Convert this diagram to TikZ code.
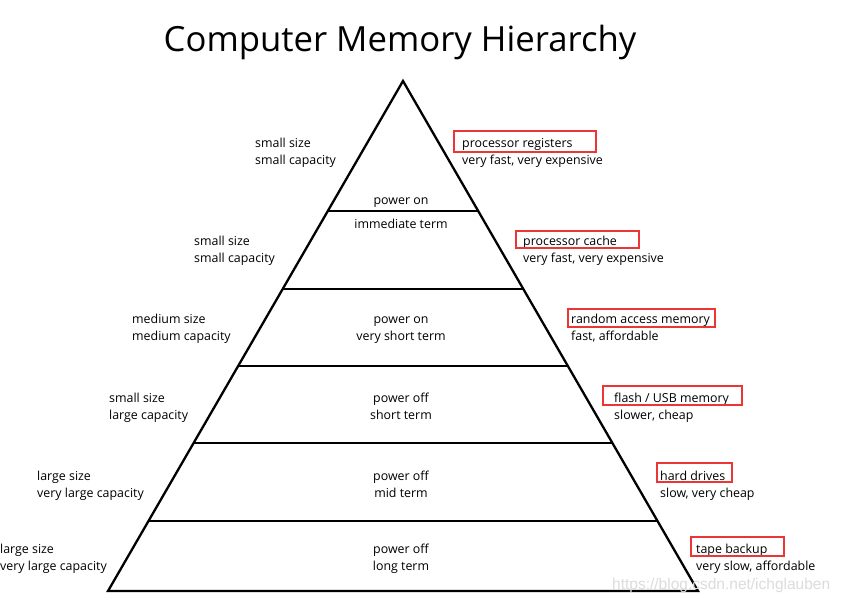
\documentclass[tikz,border=0pt]{standalone}
\usepackage{fontspec}
\setmainfont{Open Sans}
\usetikzlibrary{calc}
\definecolor{boxred}{HTML}{EE3535}
\definecolor{wm}{HTML}{DCDCDC}
\begin{document}
\begin{tikzpicture}[x=1pt,y=-1pt,
  lbl/.style={anchor=base west,inner sep=0pt,font=\fontsize{12.4}{14}\selectfont},
  ctr/.style={anchor=base,inner sep=0pt,font=\fontsize{12.4}{14}\selectfont},
  pyr/.style={line width=2.3pt,line join=miter},
  redbox/.style={draw=boxred,line width=2.2pt}]
\useasboundingbox[fill=white] (0,0) rectangle (842,603);
\node[anchor=base,inner sep=0pt,font=\fontsize{34.7}{40}\selectfont] (title) at (400,51) {Computer Memory Hierarchy};
% pyramid
\coordinate (apex) at (403,81);
\coordinate (bl) at (108,591);
\coordinate (br) at (698,591);
\draw[pyr] (bl) -- (apex) -- (br) -- cycle;
\foreach \yy in {211,289,366,443,521}{
  \draw[line width=2.3pt] ($(apex)!{(\yy-81)/510}!(bl)$) -- ($(apex)!{(\yy-81)/510}!(br)$);
}
% level 1
\node[lbl] (l1a) at (255,147) {small size};
\node[lbl] (l1b) at (255,164) {small capacity};
\node[ctr] (c1a) at (401,204) {power on};
\node[ctr] (c1b) at (401,228) {immediate term};
\node[lbl] (r1a) at (462,147) {processor registers};
\node[lbl] (r1b) at (462,164) {very fast, very expensive};
\draw[redbox] (454,131) rectangle (596,152);
% level 2
\node[lbl] (l2a) at (194,245) {small size};
\node[lbl] (l2b) at (194,262) {small capacity};
\node[lbl] (r2a) at (523,245) {processor cache};
\node[lbl] (r2b) at (523,262) {very fast, very expensive};
\draw[redbox] (516,231) rectangle (639,248);
% level 3
\node[lbl] (l3a) at (132,323) {medium size};
\node[lbl] (l3b) at (132,340) {medium capacity};
\node[ctr] (c3a) at (401,323) {power on};
\node[ctr] (c3b) at (401,340) {very short term};
\node[lbl] (r3a) at (571,323) {random access memory};
\node[lbl] (r3b) at (571,340) {fast, affordable};
\draw[redbox] (568,309) rectangle (715,327);
% level 4
\node[lbl] (l4a) at (109,402) {small size};
\node[lbl] (l4b) at (109,419) {large capacity};
\node[ctr] (c4a) at (401,402) {power off};
\node[ctr] (c4b) at (401,419) {short term};
\node[lbl] (r4a) at (614,402) {flash / USB memory};
\node[lbl] (r4b) at (614,419) {slower, cheap};
\draw[redbox] (603,386) rectangle (742,405);
% level 5
\node[lbl] (l5a) at (37,480) {large size};
\node[lbl] (l5b) at (37,497) {very large capacity};
\node[ctr] (c5a) at (401,480) {power off};
\node[ctr] (c5b) at (401,497) {mid term};
\node[lbl] (r5a) at (660,480) {hard drives};
\node[lbl] (r5b) at (660,497) {slow, very cheap};
\draw[redbox] (657,463) rectangle (732,482);
% level 6
\node[lbl] (l6a) at (0,553) {large size};
\node[lbl] (l6b) at (0,570) {very large capacity};
\node[ctr] (c6a) at (401,553) {power off};
\node[ctr] (c6b) at (401,570) {long term};
\node[lbl] (r6a) at (696,553) {tape backup};
\node[lbl] (r6b) at (696,570) {very slow, affordable};
\draw[redbox] (691,537) rectangle (784,556);
% watermark
\node[anchor=base west,inner sep=0pt,text=wm,font=\fontspec{Liberation Sans}\fontsize{15.5}{18}\selectfont] (wmark) at (612,589) {https://blog.csdn.net/ichglauben};
\end{tikzpicture}
\end{document}
